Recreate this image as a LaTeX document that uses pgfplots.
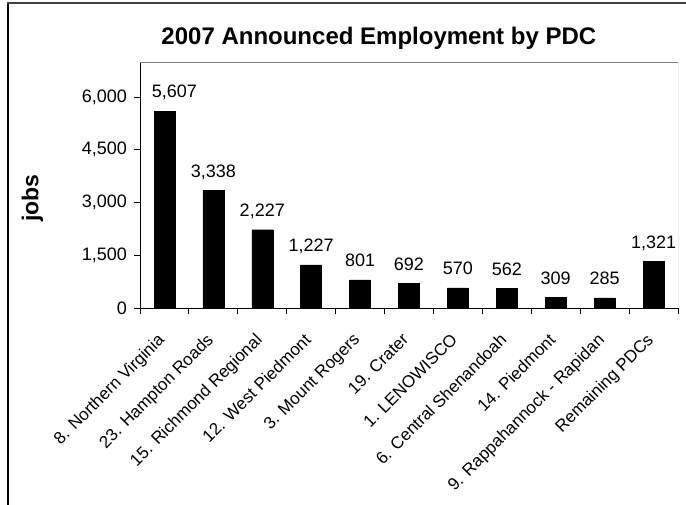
\documentclass[border=0pt]{standalone}
\usepackage{fontspec}
\setmainfont{Liberation Sans}
\usepackage{pgfplots}
\pgfplotsset{compat=1.18}

\begin{document}
\begin{tikzpicture}
\useasboundingbox (-140pt,-197pt) rectangle (546pt,308pt);
% outer chart frame (only left and top edges are visible)
\draw[black, line width=2.5pt] (-132pt,-200pt) -- (-132pt,306pt);
\draw[black!75, line width=2pt] (-133pt,305pt) -- (550pt,305pt);
\begin{axis}[
    at={(0pt,0pt)}, anchor=south west,
    scale only axis, width=538pt, height=246pt,
    xmin=-0.5, xmax=10.5, ymin=0, ymax=7000,
    axis x line*=bottom, axis y line*=left,
    axis line style={-, black, line width=0.9pt},
    tick align=outside,
    major tick length=6pt,
    tick style={black, line width=0.9pt},
    /pgf/number format/1000 sep={,},
    /pgf/number format/assume math mode=true,
    scaled y ticks=false,
    ytick={0,1500,3000,4500,6000},
    yticklabel style={font=\fontsize{18}{18}\selectfont, inner sep=0pt, xshift=-7pt},
    xtick={-0.5,0.5,...,10.5},
    xticklabels={},
    extra x ticks={0,1,...,10},
    extra x tick labels={8. Northern Virginia, 23. Hampton Roads, 15. Richmond Regional,
        12. West Piedmont, 3. Mount Rogers, 19. Crater, 1. LENOWISCO,
        6. Central Shenandoah, 14. Piedmont, 9. Rappahannock - Rapidan, Remaining PDCs},
    extra x tick style={major tick length=0pt},
    xticklabel style={xshift=-8pt, yshift=-24pt, rotate=45, anchor=north east, inner sep=0pt,
        font=\fontsize{17}{17}\selectfont},
    ylabel={jobs},
    ylabel style={at={(axis description cs:-0.2,0.447)}, anchor=center,
        font=\bfseries\fontsize{23}{23}\selectfont},
    title={2007 Announced Employment by PDC},
    title style={at={(axis description cs:0.444,1.045)}, anchor=base,
        font=\bfseries\fontsize{24}{24}\selectfont},
    ybar, bar width=0.43, bar shift=0pt,
    nodes near coords,
    every node near coord/.append style={anchor=base, yshift=13pt,
        font=\fontsize{18}{18}\selectfont, black},
]
\addplot[fill=black, draw=black, every node near coord/.append style={xshift=10pt}]
  coordinates {(0,5607)};
\addplot[fill=black, draw=black] coordinates {
  (1,3338) (2,2227) (3,1227) (4,801) (5,692)
  (6,570) (7,562) (8,309) (9,285) (10,1321)
};
\draw[black!50, line width=0.8pt] (rel axis cs:0,1) -- (rel axis cs:1,1) -- (rel axis cs:1,0);
\end{axis}
\end{tikzpicture}
\end{document}
